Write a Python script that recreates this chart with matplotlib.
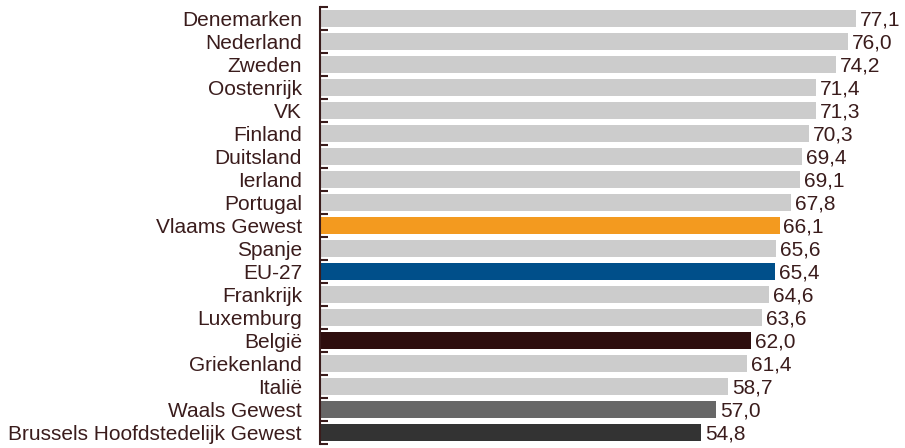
import matplotlib.pyplot as plt

landen = ['Denemarken', 'Nederland', 'Zweden', 'Oostenrijk', 'VK', 'Finland',
          'Duitsland', 'Ierland', 'Portugal', 'Vlaams Gewest', 'Spanje', 'EU-27',
          'Frankrijk', 'Luxemburg', 'België', 'Griekenland', 'Italië',
          'Waals Gewest', 'Brussels Hoofdstedelijk Gewest']
waarden = [77.1, 76.0, 74.2, 71.4, 71.3, 70.3, 69.4, 69.1, 67.8, 66.1, 65.6,
           65.4, 64.6, 63.6, 62.0, 61.4, 58.7, 57.0, 54.8]
speciaal = {'Vlaams Gewest': '#f39a1f', 'EU-27': '#004f8a', 'België': '#2e0e0e',
            'Waals Gewest': '#676767', 'Brussels Hoofdstedelijk Gewest': '#333333'}

tekst = '#3a1c1c'
plt.rcParams['font.family'] = ['Liberation Sans', 'DejaVu Sans']

fig = plt.figure(figsize=(9.05, 4.48), dpi=100)
# axis line at x=320 px, 6.95 px per unit; rows from y=7 to y=444 px
ax = fig.add_axes([320 / 905, 4 / 448, 584 / 905, 437 / 448])

kleuren = [speciaal.get(l, '#cccccc') for l in landen]
pos = list(range(len(landen)))
ax.barh(pos, waarden, height=0.78, color=kleuren)
for p, w in zip(pos, waarden):
    ax.text(w + 0.55, p + 0.08, f'{w:.1f}'.replace('.', ','), va='center', ha='left',
            fontsize=15, color=tekst)

ax.set_xlim(0, 84)
ax.set_ylim(len(landen) - 0.5, -0.5)
ax.set_yticks(pos)
ax.set_yticklabels(landen, fontsize=15, color=tekst)
ax.tick_params(axis='y', which='major', length=0, pad=13)
ax.set_yticks([p - 0.5 for p in pos] + [len(landen) - 0.5], minor=True)
ax.tick_params(axis='y', which='minor', direction='in', length=6, width=1.5, color=tekst)
ax.set_xticks([])
for s in ['top', 'right', 'bottom']:
    ax.spines[s].set_visible(False)
ax.spines['left'].set_color(tekst)
ax.spines['left'].set_linewidth(1.5)

plt.savefig('out.png', dpi=100)
